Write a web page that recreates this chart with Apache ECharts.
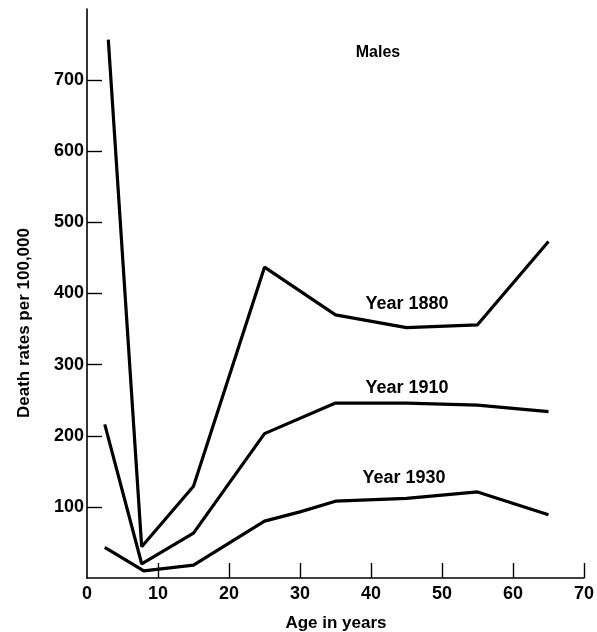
<!DOCTYPE html>
<html>
<head>
<meta charset="utf-8">
<script src="https://cdn.jsdelivr.net/npm/echarts@6/dist/echarts.min.js"></script>
<style>html,body{margin:0;padding:0;background:#fff}#c{width:597px;height:632px}</style>
</head>
<body>
<div id="c"></div>
<script>
var ages1880 = [3, 7.7, 15, 25, 35, 45, 55, 65];
var rates1880 = [757, 44, 129, 437, 370, 352, 356, 473];
var ages1910 = [2.5, 7.7, 15, 25, 35, 45, 55, 65];
var rates1910 = [216, 20, 63, 203, 246, 246, 243, 234];
var ages1930 = [2.5, 8, 15, 25, 30, 35, 45, 55, 65];
var rates1930 = [43, 10, 18, 80, 93, 108, 112, 121, 89];
var xTicks = [10, 20, 30, 40, 50, 60, 70];
var xLabels = [0, 10, 20, 30, 40, 50, 60, 70];
var yTicks = [100, 200, 300, 400, 500, 600, 700];
var seriesNames = ['Year 1880', 'Year 1910', 'Year 1930'];

function pairs(xs, ys) { return xs.map(function (x, i) { return [x, ys[i]]; }); }

var font = '"Liberation Sans", Arial, Helvetica, sans-serif';
var chart = echarts.init(document.getElementById('c'));
var lineSeries = function (name, data) {
  return {
    name: name, type: 'line', data: data, showSymbol: false, silent: true,
    lineStyle: { color: '#000', width: 3.2 }, animation: false
  };
};
chart.setOption({
  animation: false,
  grid: { left: 87, right: 11, top: 9, bottom: 54 },
  xAxis: {
    type: 'value', min: 0, max: 70, interval: 10,
    axisLine: { lineStyle: { color: '#000', width: 1.6 } },
    axisTick: { inside: true, length: 15, customValues: xTicks, lineStyle: { color: '#000', width: 1.4 } },
    axisLabel: { customValues: xLabels, margin: 7, color: '#000', fontSize: 18, fontWeight: 'bold', fontFamily: font },
    splitLine: { show: false }
  },
  yAxis: {
    type: 'value', min: 0, max: 800, interval: 100,
    axisLine: { show: true, lineStyle: { color: '#000', width: 1.6 } },
    axisTick: { show: true, inside: true, length: 15, customValues: yTicks, lineStyle: { color: '#000', width: 1.4 } },
    axisLabel: { customValues: yTicks, margin: 3, color: '#000', fontSize: 18, fontWeight: 'bold', fontFamily: font },
    splitLine: { show: false }
  },
  series: [
    lineSeries(seriesNames[0], pairs(ages1880, rates1880)),
    lineSeries(seriesNames[1], pairs(ages1910, rates1910)),
    lineSeries(seriesNames[2], pairs(ages1930, rates1930))
  ],
  graphic: [
    { type: 'text', x: 378, y: 53, style: { text: 'Males', fill: '#000', font: 'bold 16px ' + font, align: 'center', verticalAlign: 'middle' } },
    { type: 'text', x: 407, y: 304, style: { text: seriesNames[0], fill: '#000', font: 'bold 18px ' + font, align: 'center', verticalAlign: 'middle' } },
    { type: 'text', x: 407, y: 388, style: { text: seriesNames[1], fill: '#000', font: 'bold 18px ' + font, align: 'center', verticalAlign: 'middle' } },
    { type: 'text', x: 404, y: 478, style: { text: seriesNames[2], fill: '#000', font: 'bold 18px ' + font, align: 'center', verticalAlign: 'middle' } },
    { type: 'text', x: 336, y: 623, style: { text: 'Age in years', fill: '#000', font: 'bold 17px ' + font, align: 'center', verticalAlign: 'middle' } },
    { type: 'text', x: 24, y: 323, rotation: Math.PI / 2, style: { text: 'Death rates per 100,000', fill: '#000', font: 'bold 17px ' + font, align: 'center', verticalAlign: 'middle' } }
  ]
});
</script>
</body>
</html>
